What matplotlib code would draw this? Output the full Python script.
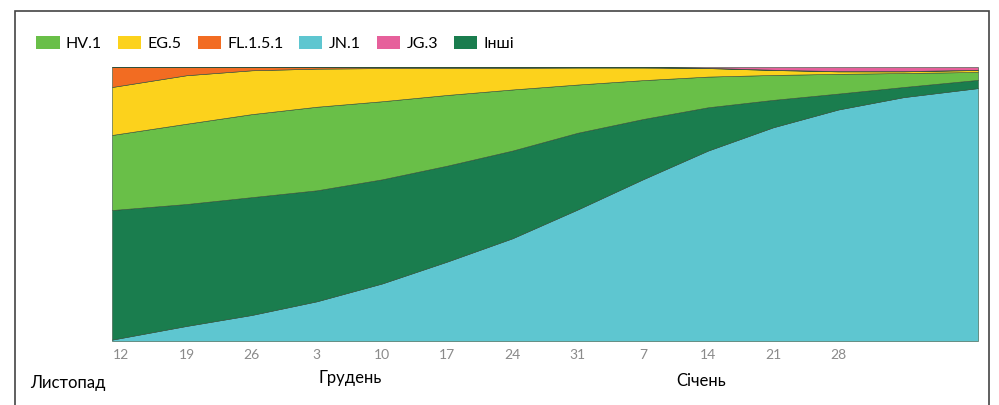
import matplotlib
matplotlib.use('Agg')
import matplotlib.pyplot as plt
from matplotlib.patches import Patch, Rectangle

# Days counted from 12 November (weekly samples)
days = [-1, 7, 14, 21, 28, 35, 42, 49, 56, 63, 70, 77, 84, 92]

# Variant shares, %
jn1 = [0.5, 5.5, 9.5, 14.5, 21, 29, 37.5, 48, 59, 69.5, 78, 84.5, 89, 92.3]
inshi = [47.3, 44.5, 43, 40.5, 38, 35, 32, 28, 22, 15.8, 10, 5.8, 3.7, 3.0]
hv1 = [27.4, 29.3, 30.3, 30.5, 28.5, 25.8, 22.3, 17.6, 14.2, 11.2, 9.1, 7.2, 5.1, 2.9]
eg5 = [17.5, 17.7, 16, 13.9, 12.1, 9.9, 7.9, 6.2, 4.6, 3.1, 1.8, 0.9, 0.6, 0.7]
fl151 = [7.3, 3.0, 1.2, 0.6, 0.4, 0.3, 0.3, 0.2, 0.2, 0.1, 0.1, 0.1, 0.1, 0.1]
jg3 = [0, 0, 0, 0, 0, 0, 0, 0, 0, 0.3, 1.0, 1.5, 1.5, 1.0]

tick_days = [0, 7, 14, 21, 28, 35, 42, 49, 56, 63, 70, 77]
tick_labels = ['12', '19', '26', '3', '10', '17', '24', '31', '7', '14', '21', '28']

colors = {
    'HV.1': '#69bf48',
    'EG.5': '#fcd21c',
    'FL.1.5.1': '#f26c22',
    'JN.1': '#5ec6d0',
    'JG.3': '#e6609b',
    'Інші': '#1a7d4e',
}

plt.rcParams['font.family'] = ['Lato', 'DejaVu Sans']

fig = plt.figure(figsize=(9.99, 4.05), dpi=100)
ax = fig.add_axes([112 / 999, 64 / 405, 866 / 999, 274 / 405])

# Stack from the bottom: JN.1, Інші, HV.1, EG.5, FL.1.5.1, JG.3
ax.stackplot(days, jn1, inshi, hv1, eg5, fl151, jg3,
             colors=[colors['JN.1'], colors['Інші'], colors['HV.1'],
                     colors['EG.5'], colors['FL.1.5.1'], colors['JG.3']],
             edgecolor='#2f4f3a', linewidth=0.4)

ax.set_xlim(-1, 92)
ax.set_ylim(0, 100)
ax.set_xticks(tick_days)
ax.set_xticklabels(tick_labels, color='#8a8a8a', fontsize=10)
ax.set_yticks([])
ax.tick_params(axis='x', length=0, pad=6)
for s in ax.spines.values():
    s.set_visible(False)

# Legend
order = ['HV.1', 'EG.5', 'FL.1.5.1', 'JN.1', 'JG.3', 'Інші']
handles = [Patch(facecolor=colors[k], edgecolor='none', label=k) for k in order]
fig.legend(handles=handles, loc='upper left', bbox_to_anchor=(30 / 999, 1 - 30 / 405),
           ncol=6, frameon=False, fontsize=11.5, handlelength=1.45, handleheight=0.8,
           handletextpad=0.4, columnspacing=1.0, borderaxespad=0)

# Month labels
fig.text(30 / 999, 1 - 383 / 405, 'Листопад', fontsize=12, va='center', ha='left')
fig.text(318 / 999, 1 - 378 / 405, 'Грудень', fontsize=12, va='center', ha='left')
fig.text(676 / 999, 1 - 381 / 405, 'Січень', fontsize=12, va='center', ha='left')

# Outer frame
fig.patches.append(Rectangle((15 / 999, -0.02), 974 / 999, 1 - 11 / 405 + 0.02,
                             transform=fig.transFigure, fill=False,
                             edgecolor='#444444', linewidth=1.2))

fig.savefig('out.png', dpi=100)
